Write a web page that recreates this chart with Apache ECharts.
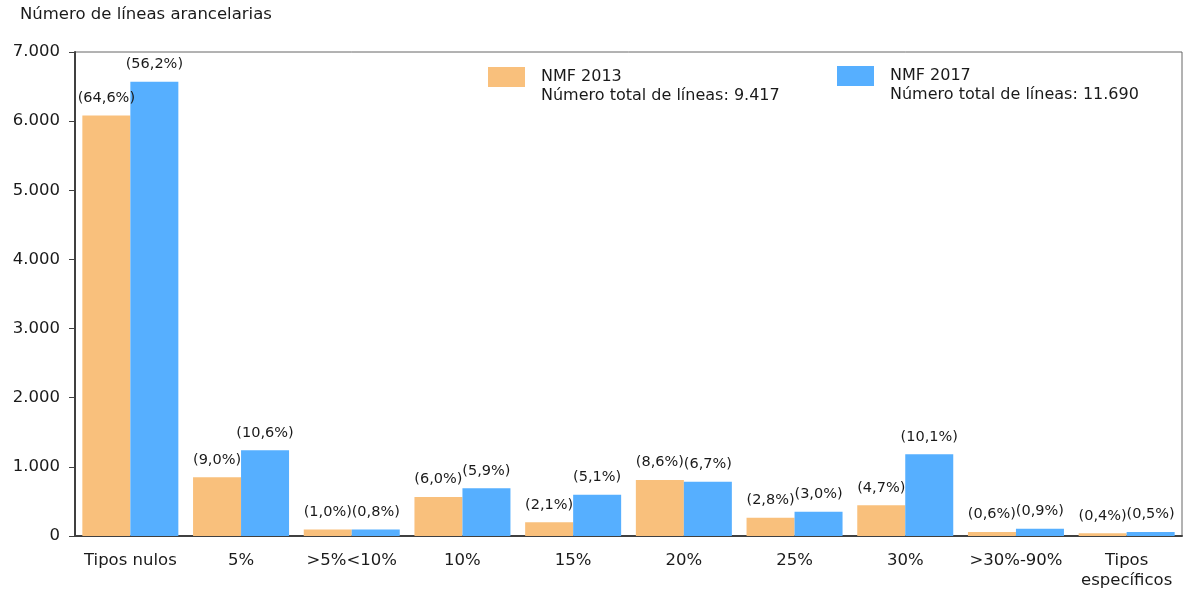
<!DOCTYPE html>
<html>
<head>
<meta charset="utf-8">
<script src="https://cdn.jsdelivr.net/npm/echarts@6/dist/echarts.min.js"></script>
<style>html,body{margin:0;padding:0;background:#fff}#c{width:1185px;height:591px}</style>
</head>
<body>
<div id="c"></div>
<script>
const categories = ['Tipos nulos', '5%', '>5%<10%', '10%', '15%', '20%', '25%', '30%', '>30%-90%', 'Tipos\nespecíficos'];
const values2013 = [6083, 848, 94, 565, 198, 810, 264, 443, 57, 38];
const values2017 = [6570, 1239, 94, 690, 596, 783, 351, 1181, 105, 58];
const pct2013 = ['64,6', '9,0', '1,0', '6,0', '2,1', '8,6', '2,8', '4,7', '0,6', '0,4'];
const pct2017 = ['56,2', '10,6', '0,8', '5,9', '5,1', '6,7', '3,0', '10,1', '0,9', '0,5'];
const seriesNames = ['NMF 2013', 'NMF 2017'];
const totals = ['Número total de líneas: 9.417', 'Número total de líneas: 11.690'];
const yTicks = [0, 1000, 2000, 3000, 4000, 5000, 6000, 7000];

const FONT = 'DejaVu Sans';
const TXT = '#1a1a1a';
const chart = echarts.init(document.getElementById('c'));
function fmtThousands(v) { return String(v).replace(/\B(?=(\d{3})+(?!\d))/g, '.'); }
const lbl = (arr) => ({
  show: true, position: 'top', distance: 10,
  fontFamily: FONT, fontSize: 14.5, color: TXT,
  formatter: (p) => '(' + arr[p.dataIndex] + '%)'
});
chart.setOption({
  animation: false,
  textStyle: { fontFamily: FONT },
  title: {
    text: 'Número de líneas arancelarias', left: 20, top: 6, padding: 0,
    textStyle: { fontFamily: FONT, fontSize: 16.5, fontWeight: 'normal', color: TXT }
  },
  legend: [
    { data: [seriesNames[0]], left: 488, top: 67, padding: 0, itemWidth: 37, itemHeight: 20, icon: 'rect',
      textStyle: { fontFamily: FONT, fontSize: 16, color: TXT, padding: [0, 0, 4, 11] } },
    { data: [seriesNames[1]], left: 837, top: 66, padding: 0, itemWidth: 37, itemHeight: 20, icon: 'rect',
      textStyle: { fontFamily: FONT, fontSize: 16, color: TXT, padding: [0, 0, 4, 11] } }
  ],
  graphic: [
    { type: 'text', left: 541, top: 88, style: { text: totals[0], font: '16px "DejaVu Sans"', fill: TXT } },
    { type: 'text', left: 890, top: 87, style: { text: totals[1], font: '16px "DejaVu Sans"', fill: TXT } }
  ],
  grid: { left: 75, right: 3, top: 52, bottom: 51, show: true, borderColor: '#666', borderWidth: 1 },
  xAxis: {
    type: 'category', data: categories,
    axisLine: { lineStyle: { color: '#404040', width: 2 } },
    axisTick: { show: false },
    axisLabel: { fontFamily: FONT, fontSize: 16.5, color: TXT, margin: 15, interval: 0, lineHeight: 20 }
  },
  yAxis: {
    type: 'value', min: yTicks[0], max: yTicks[yTicks.length - 1], interval: 1000,
    axisLine: { show: true, lineStyle: { color: '#404040', width: 2 } },
    axisTick: { show: true, length: 6, lineStyle: { color: '#404040' } },
    splitLine: { show: false },
    axisLabel: { fontFamily: FONT, fontSize: 16.5, color: TXT, margin: 15, formatter: fmtThousands }
  },
  series: [
    { name: seriesNames[0], type: 'bar', data: values2013, barWidth: 48, barGap: '0%',
      itemStyle: { color: '#F9C07C' }, label: lbl(pct2013) },
    { name: seriesNames[1], type: 'bar', data: values2017, barWidth: 48, barGap: '0%',
      itemStyle: { color: '#56AFFF' }, label: lbl(pct2017) }
  ]
});
</script>
</body>
</html>
